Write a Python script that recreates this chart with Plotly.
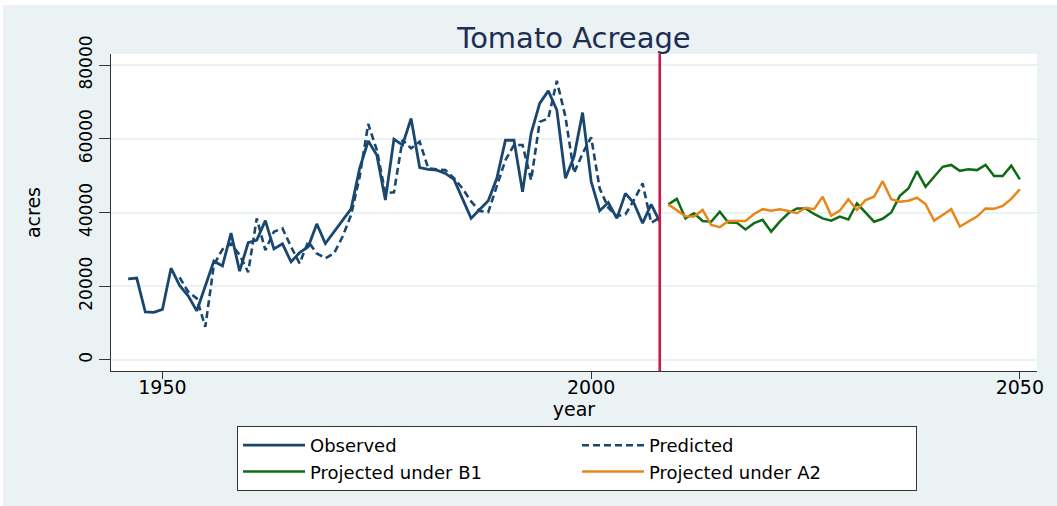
import plotly.graph_objects as go

obs_years = list(range(1946, 2009))
observed = [22000, 22200, 13000, 12900, 13700, 24900, 20200, 17400, 13300, 20000,
            26800, 25500, 34400, 24100, 31800, 32500, 37800, 30100, 31500, 26600,
            29100, 30700, 36900, 31600, 34700, 37900, 41000, 52000, 59400, 55600,
            43400, 59900, 58300, 65500, 52200, 51700, 51500, 50600, 49000, 43700,
            38400, 40800, 43200, 49300, 59600, 59600, 45600, 61500, 69600, 73000,
            67800, 49300, 55100, 67100, 48400, 40500, 42700, 38400, 45200, 42500,
            37100, 42200, 37500]

pred_years = list(range(1952, 2009))
predicted = [22400, 18500, 16700, 9000, 25800, 30000, 31500, 28500, 23800, 38400,
             29800, 34800, 35700, 30700, 26200, 32100, 28900, 27600, 28900, 33400,
             39300, 49700, 64000, 57000, 45200, 45500, 59700, 57400, 59200, 52000,
             51700, 51500, 49300, 46500, 43000, 40400, 40100, 47000, 54200, 58300,
             58300, 48800, 64600, 65500, 75700, 66000, 50700, 56000, 60400, 46500,
             41300, 39000, 39500, 43400, 47900, 37200, 38600]

proj_years = list(range(2009, 2051))
proj_b1 = [42200, 43700, 38400, 39800, 37700, 37500, 40200, 37300, 37200, 35400,
           37100, 38000, 34800, 37500, 39800, 41100, 41100, 39600, 38400, 37800,
           38900, 38100, 42500, 40000, 37500, 38300, 40000, 44500, 46500, 51200,
           47000, 49700, 52400, 52900, 51300, 51700, 51500, 52900, 49900, 49900,
           52700, 49000]
proj_a2 = [42200, 40700, 39000, 38900, 40700, 36600, 36000, 37700, 37700, 37700,
           39600, 40900, 40500, 40900, 40400, 39800, 41300, 40900, 44300, 39100,
           40500, 43600, 40700, 43400, 44300, 48500, 43600, 42900, 43200, 44000,
           42300, 37800, 39300, 40900, 36200, 37500, 38900, 41100, 41000, 41800,
           43700, 46300]

split_year = 2008
x_ticks = [1950, 2000, 2050]
y_ticks = [0, 20000, 40000, 60000, 80000]

NAVY = "#1A476F"
GREEN = "#0F6B14"
ORANGE = "#E8861A"
RED = "#C8194A"
BG = "#EAF2F3"
FONT = "DejaVu Sans"

fig = go.Figure()
fig.add_trace(go.Scatter(x=obs_years, y=observed, mode="lines", name="Observed",
                         line=dict(color=NAVY, width=2.8)))
fig.add_trace(go.Scatter(x=pred_years, y=predicted, mode="lines", name="Predicted",
                         line=dict(color=NAVY, width=2.6, dash="7px,4px")))
fig.add_trace(go.Scatter(x=proj_years, y=proj_b1, mode="lines", name="Projected under B1",
                         line=dict(color=GREEN, width=2.5)))
fig.add_trace(go.Scatter(x=proj_years, y=proj_a2, mode="lines", name="Projected under A2",
                         line=dict(color=ORANGE, width=2.5)))

fig.add_shape(type="line", xref="x", yref="paper", x0=split_year, x1=split_year,
              y0=0, y1=1, line=dict(color=RED, width=2.6))

W, H = 1057, 506
ml, mr, mt, mb = 111, 20, 54, 135
pw, ph = W - ml - mr, H - mt - mb

def px_x(p):
    return (p - ml) / pw

def px_y(p):
    return (H - mb - p) / ph

# white outer strips (top and left)
fig.add_shape(type="rect", xref="paper", yref="paper", x0=px_x(0), x1=px_x(W),
              y0=px_y(5), y1=px_y(0), fillcolor="white", line_width=0, layer="above")
fig.add_shape(type="rect", xref="paper", yref="paper", x0=px_x(0), x1=px_x(3),
              y0=px_y(H), y1=px_y(0), fillcolor="white", line_width=0, layer="above")

fig.update_layout(
    width=W, height=H,
    margin=dict(l=ml, r=mr, t=mt, b=mb),
    paper_bgcolor=BG, plot_bgcolor="white",
    font=dict(family=FONT, color="black", size=18),
    title=dict(text="Tomato Acreage", x=0.5, xanchor="center", xref="paper",
               y=1 - 38 / H, yref="container", yanchor="middle",
               font=dict(family=FONT, size=29, color="#1E2D53")),
    showlegend=True,
    legend=dict(orientation="h", x=px_x(237), y=px_y(426), xanchor="left", yanchor="top",
                bgcolor="white", bordercolor="#333333", borderwidth=1,
                font=dict(family=FONT, size=18, color="black"),
                itemwidth=62, entrywidth=262, entrywidthmode="pixels",
                tracegroupgap=0),
    xaxis=dict(range=[1944, 2052], tickvals=x_ticks, ticktext=[str(v) for v in x_ticks],
               ticks="outside", ticklen=7, tickcolor="#333333", tickwidth=1,
               ticklabelstandoff=-8,
               showline=True, linecolor="#333333", linewidth=1,
               showgrid=False, zeroline=False,
               tickfont=dict(family=FONT, size=19),
               title=dict(text="year", standoff=0, font=dict(family=FONT, size=19))),
    yaxis=dict(range=[-3000, 83000], tickvals=y_ticks, tickformat="d",
               ticks="outside", ticklen=11, tickcolor="#333333", tickwidth=1,
               tickangle=-90,
               showline=True, linecolor="#333333", linewidth=1,
               showgrid=True, gridcolor=BG, gridwidth=1.5, zeroline=False,
               tickfont=dict(family=FONT, size=17),
               title=dict(text="acres", standoff=30, font=dict(family=FONT, size=19))),
)

fig.write_html("out.html", config={"displayModeBar": False},
               post_script="document.body.style.margin='0';")
